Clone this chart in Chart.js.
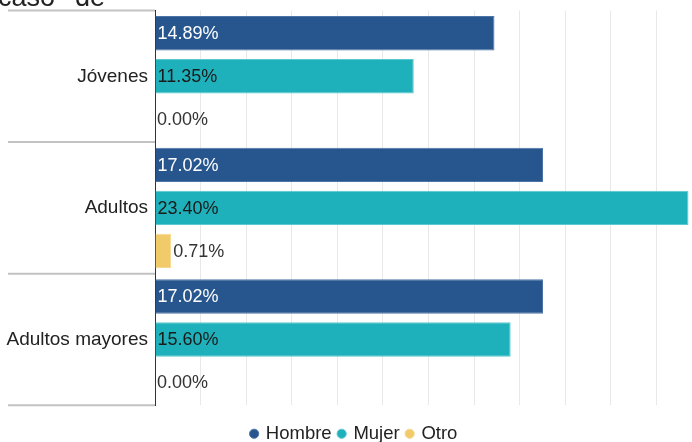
<!DOCTYPE html>
<html>
<head>
<meta charset="utf-8">
<script src="https://cdn.jsdelivr.net/npm/chart.js@4.4.1/dist/chart.umd.min.js"></script>
<style>
  html, body { margin: 0; padding: 0; background: #fff; overflow: hidden; width: 692px; height: 442px; }
  #wrap { position: relative; width: 709px; height: 453px; }
  .ttl { position: absolute; top: -16px; font: 27px "Liberation Sans", Arial, sans-serif; line-height: 27px; color: #222; white-space: pre; }
</style>
</head>
<body>
<div id="wrap">
  <canvas id="c" width="709" height="453"></canvas>
  <div class="ttl" style="left:-2px">caso</div>
  <div class="ttl" style="left:75px">de</div>
</div>
<script>
const categories = ["Jóvenes", "Adultos", "Adultos mayores"];
const seriesNames = ["Hombre", "Mujer", "Otro"];
const hombre = [14.89, 17.02, 17.02];
const mujer = [11.35, 23.40, 15.60];
const otro = [0.00, 0.71, 0.00];
const seriesColors = ["#27568f", "#1fb1bb", "#f1cb6a"];
const borderColors = ["#4d74a6", "#5cc7ce", "#f5d88f"];
const labelColors = ["#ffffff", "#1a1a1a", "#333333"];

const FONT = '"Liberation Sans", Arial, sans-serif';

const separatorPlugin = {
  id: 'separators',
  afterDraw(chart) {
    const y = chart.scales.y;
    const ctx = chart.ctx;
    const n = categories.length;
    const step = (y.bottom - y.top) / n;
    ctx.save();
    ctx.strokeStyle = '#c2c2c2';
    ctx.lineWidth = 2;
    for (let i = 0; i <= n; i++) {
      const py = (i < n ? y.getPixelForValue(i) - step / 2 : y.getPixelForValue(n - 1) + step / 2);
      ctx.beginPath();
      ctx.moveTo(8, py);
      ctx.lineTo(chart.chartArea.left, py);
      ctx.stroke();
    }
    ctx.restore();
  }
};

const valueLabelPlugin = {
  id: 'valueLabels',
  afterDatasetsDraw(chart) {
    const ctx = chart.ctx;
    ctx.save();
    ctx.font = '18px ' + FONT;
    ctx.textBaseline = 'middle';
    ctx.textAlign = 'left';
    chart.data.datasets.forEach((ds, di) => {
      const meta = chart.getDatasetMeta(di);
      meta.data.forEach((el, i) => {
        const v = ds.data[i];
        const txt = v.toFixed(2) + '%';
        const w = ctx.measureText(txt).width;
        const start = Math.min(el.base, el.x);
        const end = Math.max(el.base, el.x);
        let x, color;
        if (end - start >= w + 4) {
          x = start + 2;
          color = labelColors[di];
        } else {
          x = (v > 0 ? end + 2 : start + 2);
          color = '#333333';
        }
        ctx.fillStyle = color;
        ctx.fillText(txt, x, el.y + 1);
      });
    });
    ctx.restore();
  }
};

new Chart(document.getElementById('c'), {
  type: 'bar',
  data: {
    labels: categories,
    datasets: [
      { label: seriesNames[0], data: hombre, backgroundColor: seriesColors[0], borderColor: borderColors[0], borderWidth: 1 },
      { label: seriesNames[1], data: mujer, backgroundColor: seriesColors[1], borderColor: borderColors[1], borderWidth: 1 },
      { label: seriesNames[2], data: otro, backgroundColor: seriesColors[2], borderColor: borderColors[2], borderWidth: 1 }
    ]
  },
  options: {
    indexAxis: 'y',
    responsive: false,
    animation: false,
    devicePixelRatio: 1,
    layout: { padding: { top: 10.5, left: 0, right: 0, bottom: 0 } },
    datasets: { bar: { categoryPercentage: 0.98, barPercentage: 0.8 } },
    scales: {
      x: {
        min: 0,
        max: 24.3,
        ticks: { display: false, stepSize: 2 },
        grid: { color: '#e8e8e8', lineWidth: 1, drawTicks: false },
        border: { display: false },
        afterFit(scale) { scale.height = 11.75; }
      },
      y: {
        ticks: { color: '#222', font: { size: 19, family: FONT }, padding: 7 },
        grid: { display: false, drawTicks: false },
        border: { display: true, color: '#333', width: 1 },
        afterFit(scale) { scale.width = 155; scale.paddingTop = 0; scale.paddingBottom = 0; }
      }
    },
    plugins: {
      legend: {
        position: 'bottom',
        labels: {
          usePointStyle: true,
          pointStyle: 'circle',
          boxWidth: 5,
          boxHeight: 6.5,
          padding: 7.5,
          color: '#222',
          font: { size: 18.5, family: FONT }
        }
      },
      tooltip: { enabled: false },
      title: { display: false }
    }
  },
  plugins: [separatorPlugin, valueLabelPlugin]
});
</script>
</body>
</html>
